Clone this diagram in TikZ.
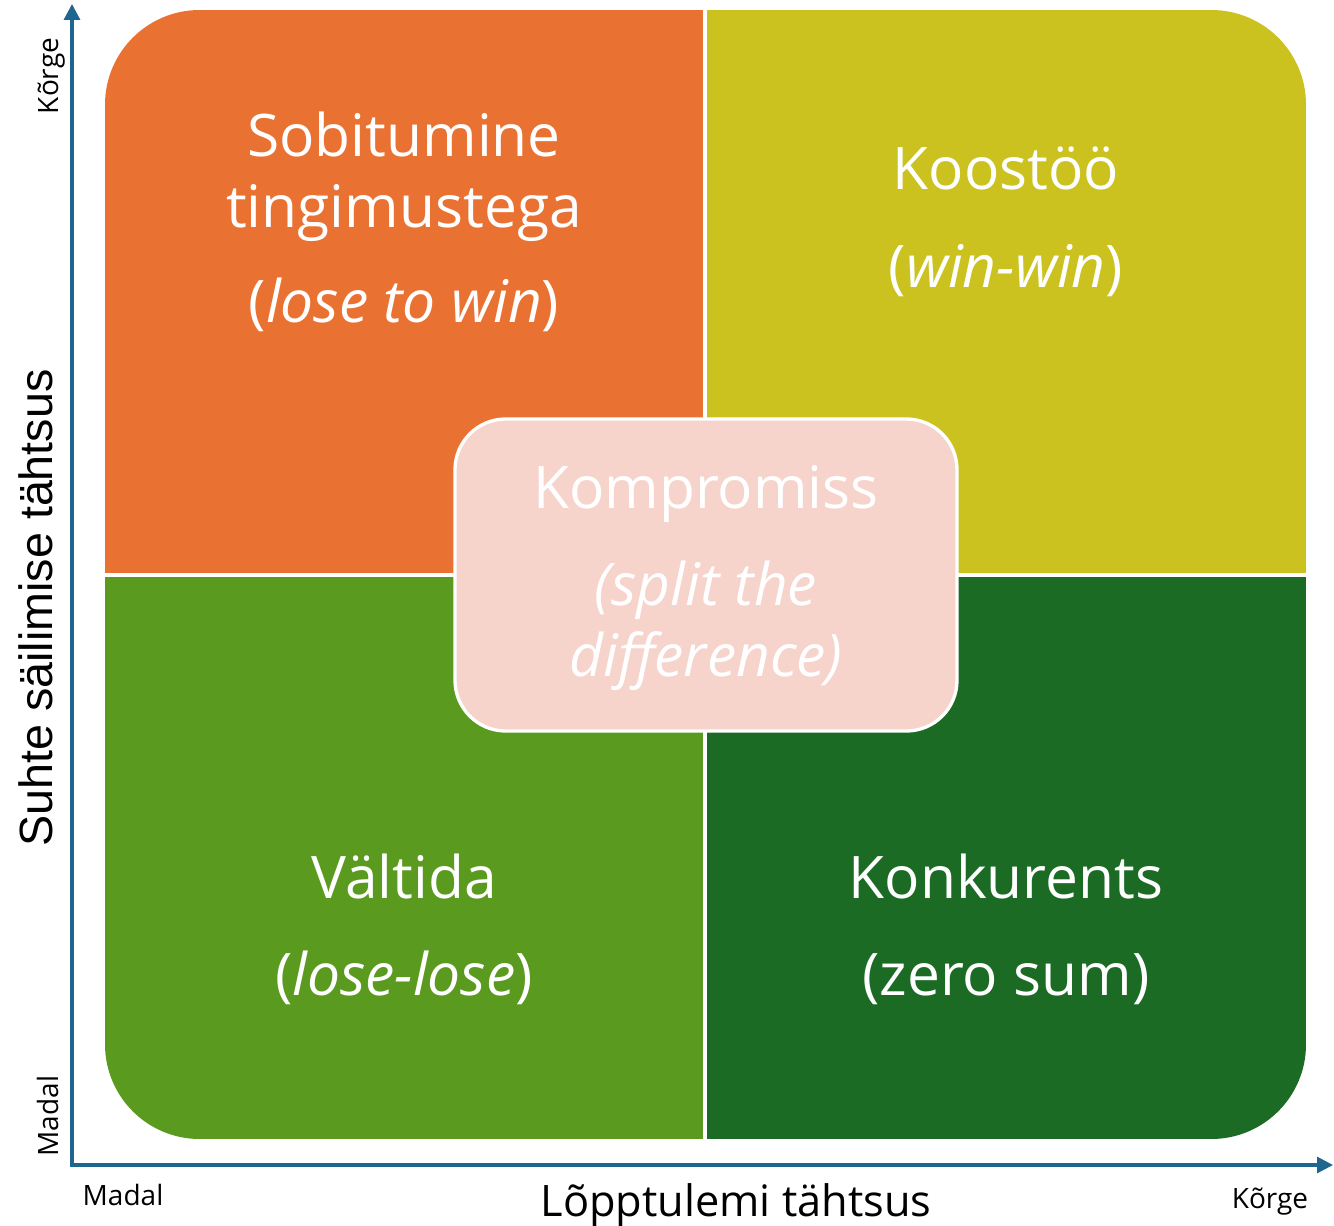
\documentclass[tikz,border=0pt]{standalone}
\usepackage{fontspec}
\setmainfont{Open Sans}
\newfontfamily\arialfont{Liberation Sans}
\usetikzlibrary{arrows.meta}
\definecolor{qorange}{HTML}{E97132}
\definecolor{qyellow}{HTML}{CBC220}
\definecolor{qlgreen}{HTML}{5A9A1F}
\definecolor{qdgreen}{HTML}{1B6B25}
\definecolor{qpink}{HTML}{F6D4CC}
\definecolor{axisblue}{HTML}{1E6690}
\tikzset{
  big/.style={anchor=base, text=white, inner sep=0pt, font=\fontsize{44}{53}\selectfont},
  small/.style={anchor=base, text=black, inner sep=0pt, font=\fontsize{21}{25}\selectfont},
  axtitle/.style={anchor=base, text=black, inner sep=0pt, font=\fontsize{32.5}{39}\selectfont},
  axisline/.style={draw=axisblue, line width=2.3pt, {Triangle[length=12pt,width=12pt]}-{Triangle[length=12pt,width=12pt]}},
}
\begin{document}
\begin{tikzpicture}[x=0.75pt,y=-0.75pt]
\useasboundingbox (0,0) rectangle (1334,1226);
% quadrants
\begin{scope}
\clip[rounded corners=71pt] (105,10) rectangle (1306,1139);
\fill[qorange] (105,10) rectangle (703,573);
\fill[qyellow] (707,10) rectangle (1306,573);
\fill[qlgreen] (105,577) rectangle (703,1139);
\fill[qdgreen] (707,577) rectangle (1306,1139);
\end{scope}
% centre box
\node[draw=white, line width=2.5pt, fill=qpink, rounded corners=38pt, minimum width=376.5pt, minimum height=234pt, inner sep=0pt] (comp) at (706,575) {};
% axes
\coordinate (origin) at (72,1165);
\coordinate (ytop) at (72,4);
\coordinate (xend) at (1333,1165);
\draw[axisline] (ytop) -- (origin) -- (xend);
% quadrant texts
\node[big] (sob1) at (404,157) {Sobitumine};
\node[big] (sob2) at (404,228) {tingimustega};
\node[big] (sob3) at (404,323) {(\textit{lose to win})};
\node[big] (koo1) at (1006,190) {Koostöö};
\node[big] (koo2) at (1006,288) {(\textit{win-win})};
\node[big] (val1) at (404,898) {Vältida};
\node[big] (val2) at (404,995) {(\textit{lose-lose})};
\node[big] (kon1) at (1006,898) {Konkurents};
\node[big] (kon2) at (1006,995) {(zero sum)};
\node[big] (kom1) at (706,508) {Kompromiss};
\node[big] (kom2) at (706,605) {\textit{(split the}};
\node[big] (kom3) at (706,676) {\textit{difference)}};
% axis labels
\node[axtitle, font=\arialfont\fontsize{35}{42}\selectfont, rotate=90] (ytitle) at (52,608) {Suhte säilimise tähtsus};
\node[axtitle] (xtitle) at (736,1216) {Lõpptulemi tähtsus};
\node[small, rotate=90] (ylow) at (58,1116) {Madal};
\node[small, rotate=90] (yhigh) at (58,76) {Kõrge};
\node[small] (xlow) at (123,1205) {Madal};
\node[small] (xhigh) at (1270,1208) {Kõrge};
\end{tikzpicture}
\end{document}
